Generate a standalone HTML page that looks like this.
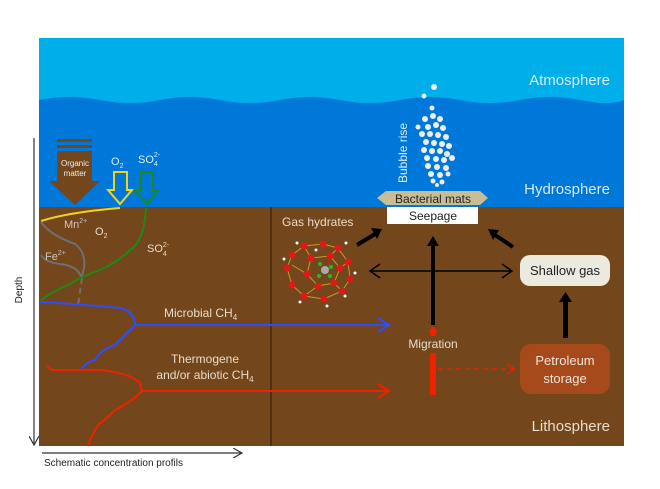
<!DOCTYPE html>
<html><head><style>
html,body{margin:0;padding:0;background:#fff;}
svg{display:block;font-family:"Liberation Sans",sans-serif;}
</style></head><body>
<svg width="660" height="489" viewBox="0 0 660 489" xmlns="http://www.w3.org/2000/svg">
<defs>
<marker id="ah" markerWidth="10" markerHeight="10" refX="8" refY="5" orient="auto" markerUnits="userSpaceOnUse"><path d="M0,0 L9,5 L0,10" fill="none" stroke="#000" stroke-width="1.5"/></marker>
<marker id="ahg" markerWidth="10" markerHeight="10" refX="8" refY="5" orient="auto" markerUnits="userSpaceOnUse"><path d="M0,0 L9,5 L0,10" fill="none" stroke="#333" stroke-width="1.2"/></marker>
</defs>
<!-- background layers -->
<rect x="39" y="38" width="585" height="70" fill="#00aeea"/>
<path d="M39,100 Q70,94 100,100 T160,100 T220,100 T280,100 T340,100 T400,100 T460,100 T520,100 T580,100 T624,100 L624,208 L39,208 Z" fill="#0078da"/>
<rect x="39" y="207" width="585" height="239" fill="#73461b"/>
<line x1="271" y1="207" x2="271" y2="446" stroke="#2e1a08" stroke-width="1"/>
<!-- labels layers -->
<text x="610" y="85" fill="#cfeefa" font-size="15" text-anchor="end">Atmosphere</text>
<text x="610" y="194" fill="#d5e8fa" font-size="15" text-anchor="end">Hydrosphere</text>
<text x="610" y="431" fill="#e8dccc" font-size="15" text-anchor="end">Lithosphere</text>
<!-- axes -->
<line x1="34" y1="138" x2="34" y2="444" stroke="#333" stroke-width="1.2" marker-end="url(#ahg)"/>
<text transform="translate(22,290) rotate(-90)" font-size="10" fill="#222" text-anchor="middle">Depth</text>
<line x1="42" y1="453" x2="241" y2="453" stroke="#333" stroke-width="1.2" marker-end="url(#ahg)"/>
<text x="44" y="466" font-size="10" fill="#222">Schematic concentration profils</text>
<!-- organic matter arrow -->
<rect x="57" y="139" width="35" height="3" fill="#73461b"/>
<rect x="57" y="145" width="35" height="3" fill="#73461b"/>
<path d="M57,151 L92,151 L92,181 L100,181 L75,205 L49,181 L57,181 Z" fill="#73461b"/>
<text x="75" y="166" font-size="8" fill="#eee" text-anchor="middle">Organic</text>
<text x="75" y="176" font-size="8" fill="#eee" text-anchor="middle">matter</text>
<!-- O2 / SO4 arrows -->
<path d="M114,172 L127,172 L127,190 L132,190 L120,204 L108,190 L114,190 Z" fill="none" stroke="#f3d21c" stroke-width="2"/>
<path d="M141,172 L153,172 L153,190 L158,190 L147,204 L135,190 L141,190 Z" fill="none" stroke="#1e8a14" stroke-width="2"/>
<text x="111" y="165" font-size="11" fill="#d8ecff">O<tspan font-size="7" dy="3">2</tspan></text>
<text x="138" y="163" font-size="11" fill="#d8ecff">SO<tspan font-size="7" dy="3">4</tspan><tspan font-size="7" dy="-9" dx="-4">2-</tspan></text>
<!-- profiles -->
<path d="M120,208 Q70,212 41,221" fill="none" stroke="#f4d21c" stroke-width="2"/>
<path d="M41,222 Q50,235 75,244 Q86,252 84,268 L82,276" fill="none" stroke="#707070" stroke-width="2"/>
<path d="M82,278 L78,305" fill="none" stroke="#707070" stroke-width="2" stroke-dasharray="6,4"/>
<path d="M41,255 Q45,262 60,264 Q78,266 81,277" fill="none" stroke="#707070" stroke-width="2"/>
<path d="M146,208 Q145,225 141,235 Q138,245 130,250 Q118,262 100,270 Q82,276 68,285 Q52,292 41,300" fill="none" stroke="#1e8a14" stroke-width="2"/>
<path d="M40,302 Q80,304 120,308 Q135,312 135,325 M135,325 L389,325 M135,325 Q125,335 115,345 Q100,350 95,360 Q85,362 82,370" fill="none" stroke="#2e4dff" stroke-width="2"/>
<path d="M378,318 L389,325 L378,332" fill="none" stroke="#2e4dff" stroke-width="2"/>
<path d="M47,366 L52,370 L100,370 Q130,373 140,383 L142,391 L389,391 M142,391 Q130,403 115,410 Q105,420 98,425 Q92,435 88,446" fill="none" stroke="#ee2200" stroke-width="2"/>
<path d="M378,384 L389,391 L378,398" fill="none" stroke="#ee2200" stroke-width="2"/>
<text x="95" y="235" font-size="11" fill="#e8dccc">O<tspan font-size="7" dy="3">2</tspan></text>
<text x="64" y="228" font-size="11" fill="#cfc4b8">Mn<tspan font-size="7" dy="-5">2+</tspan></text>
<text x="45" y="260" font-size="11" fill="#cfc4b8">Fe<tspan font-size="7" dy="-5">2+</tspan></text>
<text x="147" y="252" font-size="11" fill="#e8dccc">SO<tspan font-size="7" dy="4">4</tspan><tspan font-size="7" dy="-9" dx="-4">2-</tspan></text>
<text x="164" y="317" font-size="12" fill="#e8dccc">Microbial CH<tspan font-size="8" dy="3">4</tspan></text>
<text x="205" y="363" font-size="12" fill="#e8dccc" text-anchor="middle">Thermogene</text>
<text x="205" y="379" font-size="12" fill="#e8dccc" text-anchor="middle">and/or abiotic CH<tspan font-size="8" dy="3">4</tspan></text>
<!-- bubbles -->
<g fill="#eeeeee">
<circle cx="434" cy="87" r="3"/><circle cx="424" cy="96" r="2.5"/><circle cx="432" cy="108" r="2.5"/>
<circle cx="425" cy="119" r="3"/><circle cx="433" cy="116" r="3"/><circle cx="440" cy="119" r="3"/><circle cx="428" cy="127" r="3"/><circle cx="436" cy="125" r="3"/><circle cx="443" cy="128" r="3"/><circle cx="418" cy="127" r="2.5"/>
<circle cx="422" cy="134" r="3"/><circle cx="430" cy="134" r="3"/><circle cx="438" cy="135" r="3"/><circle cx="446" cy="137" r="3"/><circle cx="426" cy="142" r="3"/><circle cx="434" cy="143" r="3"/><circle cx="442" cy="144" r="3"/><circle cx="449" cy="146" r="3"/>
<circle cx="424" cy="150" r="3"/><circle cx="432" cy="151" r="3"/><circle cx="440" cy="151" r="3"/><circle cx="447" cy="154" r="3"/><circle cx="427" cy="158" r="3"/><circle cx="436" cy="159" r="3"/><circle cx="444" cy="160" r="3"/><circle cx="452" cy="158" r="3"/>
<circle cx="428" cy="166" r="3"/><circle cx="437" cy="167" r="3"/><circle cx="446" cy="168" r="3"/><circle cx="431" cy="174" r="3"/><circle cx="440" cy="175" r="3"/><circle cx="448" cy="174" r="2.5"/><circle cx="433" cy="181" r="2.5"/><circle cx="442" cy="182" r="2.5"/><circle cx="437" cy="185" r="2"/>
</g>
<text transform="translate(407,183) rotate(-90)" font-size="12" fill="#d8ecff">Bubble rise</text>
<!-- bacterial mats & seepage -->
<path d="M386,191 L480,191 L488,198 L480,205 L386,205 L377,198 Z" fill="#c9bd95"/>
<text x="433" y="203" font-size="12" fill="#222" text-anchor="middle">Bacterial mats</text>
<rect x="387" y="207" width="91" height="17" fill="#ffffff"/>
<text x="433" y="220" font-size="12" fill="#222" text-anchor="middle">Seepage</text>
<!-- gas hydrates -->
<text x="282" y="226" font-size="12" fill="#e8dccc">Gas hydrates</text>
<g stroke="#c89a2a" stroke-width="1" fill="none">
<polygon points="304,246 323,244 338,248 348,262 350,279 342,291 324,299 304,296 292,285 287,268 292,255"/>
<polygon points="311,258 330,256 340,268 334,283 318,286 307,274"/>
<line x1="304" y1="246" x2="311" y2="258"/><line x1="338" y1="248" x2="330" y2="256"/><line x1="348" y1="262" x2="340" y2="268"/><line x1="342" y1="291" x2="334" y2="283"/><line x1="304" y1="296" x2="318" y2="286"/><line x1="292" y1="265" x2="307" y2="274"/>
</g>
<g fill="#e01818">
<circle cx="304" cy="246" r="3.5"/><circle cx="323" cy="244" r="3.5"/><circle cx="338" cy="248" r="3.5"/><circle cx="348" cy="262" r="3.5"/><circle cx="350" cy="279" r="3.5"/><circle cx="342" cy="291" r="3.5"/><circle cx="324" cy="299" r="3.5"/><circle cx="304" cy="296" r="3.5"/><circle cx="292" cy="285" r="3.5"/><circle cx="287" cy="268" r="3.5"/><circle cx="292" cy="255" r="3.5"/>
<circle cx="311" cy="258" r="3.5"/><circle cx="330" cy="256" r="3.5"/><circle cx="340" cy="268" r="3.5"/><circle cx="334" cy="283" r="3.5"/><circle cx="318" cy="286" r="3.5"/><circle cx="307" cy="274" r="3.5"/>
</g>
<g fill="#fff"><circle cx="297" cy="243" r="1.5"/><circle cx="346" cy="243" r="1.5"/><circle cx="284" cy="259" r="1.5"/><circle cx="300" cy="302" r="1.5"/><circle cx="327" cy="306" r="1.5"/><circle cx="355" cy="273" r="1.5"/><circle cx="316" cy="250" r="1.5"/><circle cx="345" cy="296" r="1.5"/></g>
<circle cx="325" cy="270" r="4" fill="#aaa"/>
<g fill="#2bb52b"><circle cx="320" cy="264" r="2"/><circle cx="331" cy="267" r="2"/><circle cx="319" cy="276" r="2"/><circle cx="330" cy="276" r="2"/></g>
<!-- migration arrows -->
<line x1="370" y1="271" x2="512" y2="271" stroke="#000" stroke-width="1.5"/>
<path d="M380,264 L370,271 L380,278 M502,264 L512,271 L502,278" fill="none" stroke="#000" stroke-width="1.5"/>
<rect x="431" y="245" width="4" height="80" fill="#000"/>
<path d="M427,246 L433,236 L439,246 Z" fill="#000"/>
<line x1="357" y1="245" x2="375" y2="234" stroke="#000" stroke-width="4"/>
<path d="M371,228 L382,229 L377,239 Z" fill="#000"/>
<line x1="513" y1="247" x2="495" y2="235" stroke="#000" stroke-width="4"/>
<path d="M488,229 L499,230 L493,240 Z" fill="#000"/>
<rect x="563" y="301" width="5" height="37" fill="#000"/>
<path d="M559,302 L565.5,292 L572,302 Z" fill="#000"/>
<rect x="430" y="331" width="6" height="5" fill="#ee2200"/>
<path d="M428,332 L433,326 L438,332 Z" fill="#ee2200"/>
<rect x="430" y="353" width="6" height="42" fill="#ee2200"/>
<line x1="438" y1="369" x2="514" y2="369" stroke="#ee2200" stroke-width="1.2" stroke-dasharray="5,4"/>
<path d="M507,364 L515,369 L507,374" fill="none" stroke="#ee2200" stroke-width="1.2"/>
<text x="433" y="348" font-size="12" fill="#e8dccc" text-anchor="middle">Migration</text>
<!-- boxes -->
<rect x="520" y="255" width="90" height="31" rx="10" fill="#eceadf"/>
<text x="565" y="275" font-size="13" fill="#222" text-anchor="middle">Shallow gas</text>
<rect x="520" y="344" width="90" height="50" rx="11" fill="#a64a1c"/>
<text x="565" y="365" font-size="13" fill="#f0e4d8" text-anchor="middle">Petroleum</text>
<text x="565" y="383" font-size="13" fill="#f0e4d8" text-anchor="middle">storage</text>
</svg>
</body></html>
